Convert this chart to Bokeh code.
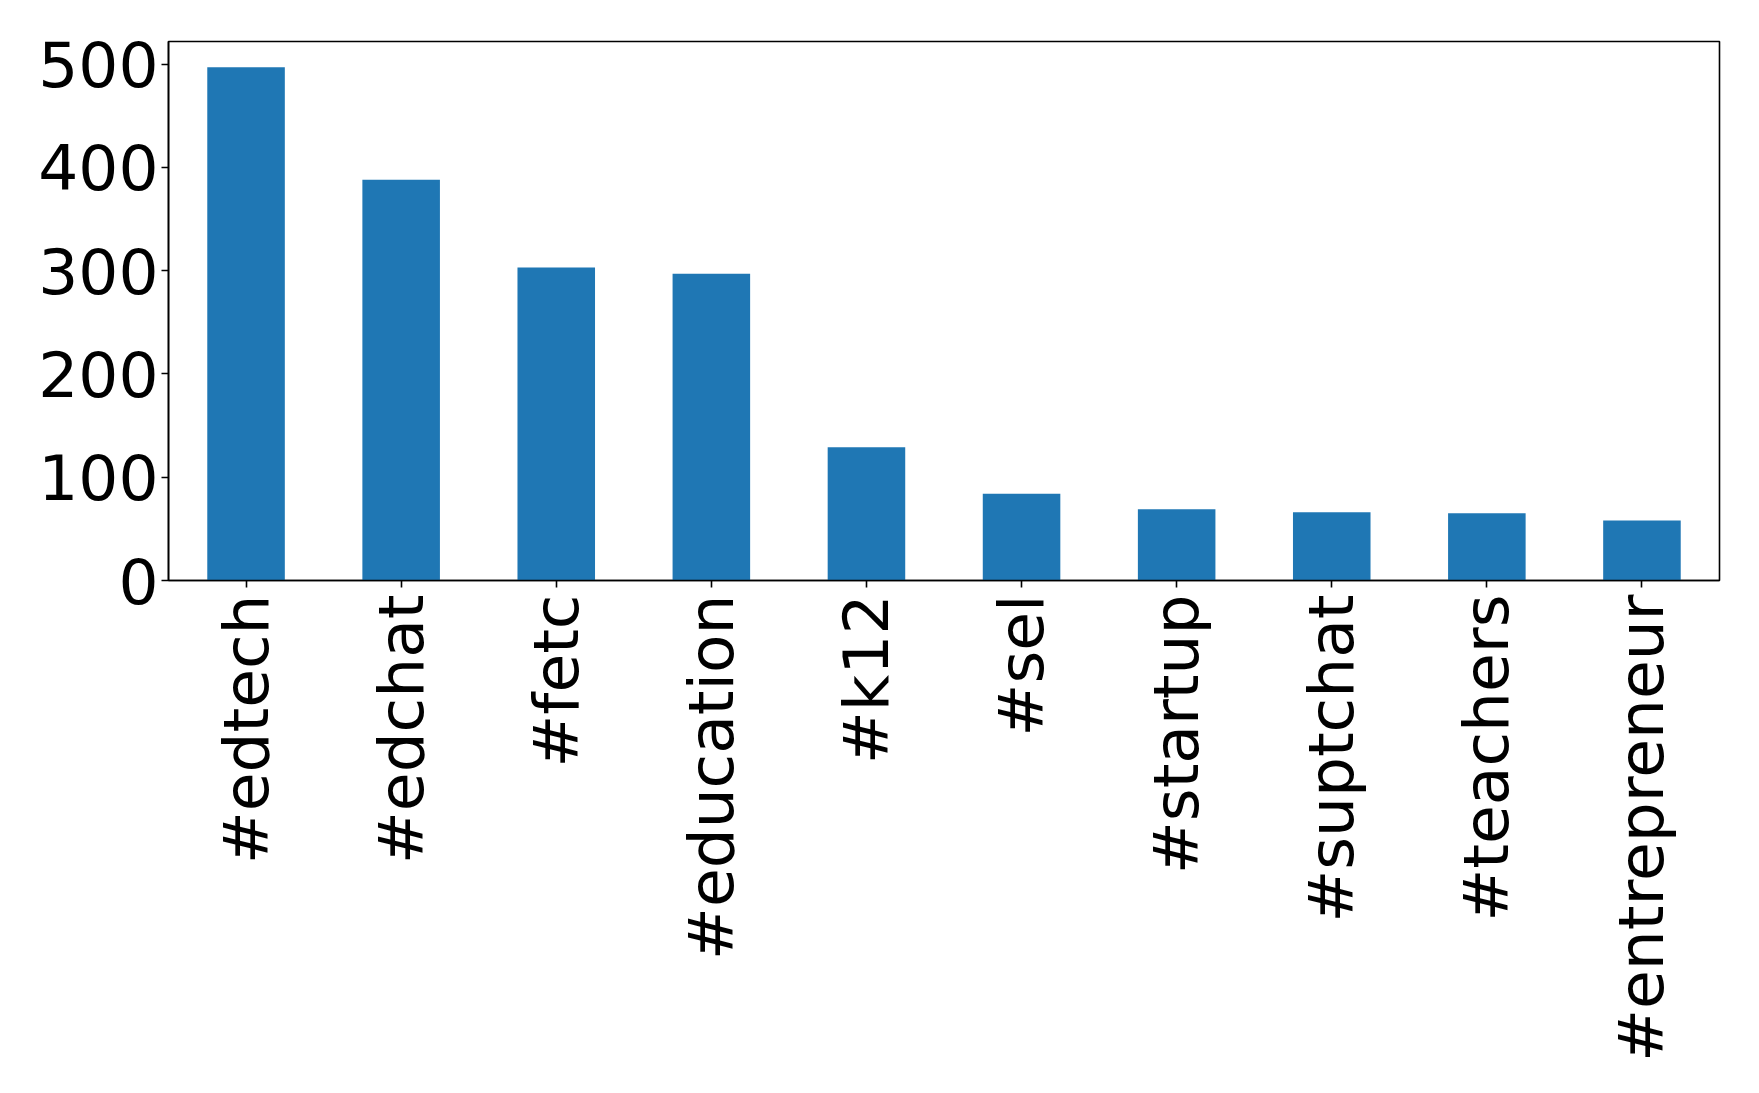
import math
from bokeh.plotting import figure
from bokeh.models import FactorRange, Range1d, FixedTicker, ColumnDataSource
from bokeh.embed import file_html
from bokeh.resources import INLINE

hashtags = ["#edtech", "#edchat", "#fetc", "#education", "#k12", "#sel",
            "#startup", "#suptchat", "#teachers", "#entrepreneur"]
counts = [497, 388, 303, 297, 129, 84, 69, 66, 65, 58]
y_ticks = [0, 100, 200, 300, 400, 500]

src = ColumnDataSource(dict(tag=hashtags, count=counts))

p = figure(x_range=FactorRange(*hashtags, range_padding=0),
           y_range=Range1d(0, max(counts) * 1.05),
           width=1759, height=1093,
           min_border_left=168, min_border_right=40,
           min_border_top=41, min_border_bottom=513,
           output_backend="svg", toolbar_location=None)

p.vbar(x="tag", top="count", width=0.5, source=src,
       fill_color="#1f77b4", line_color=None)

p.xgrid.visible = False
p.ygrid.visible = False
p.outline_line_color = "black"
p.outline_line_width = 1.6
p.background_fill_color = "white"
p.border_fill_color = "white"

p.yaxis.ticker = FixedTicker(ticks=y_ticks)
for ax in (p.xaxis[0], p.yaxis[0]):
    ax.major_label_text_font = "DejaVu Sans"
    ax.major_label_text_font_size = "63px"
    ax.major_label_text_color = "black"
    ax.major_tick_out = 7
    ax.major_tick_in = 0
    ax.minor_tick_out = 0
    ax.minor_tick_in = 0
    ax.major_tick_line_color = "black"
    ax.major_tick_line_width = 1.6
    ax.axis_line_color = "black"
    ax.axis_line_width = 1.6

p.xaxis.major_label_orientation = math.pi / 2
p.xaxis.major_label_standoff = 7
p.yaxis.major_label_standoff = 3

open("out.html", "w").write(file_html(p, INLINE))
